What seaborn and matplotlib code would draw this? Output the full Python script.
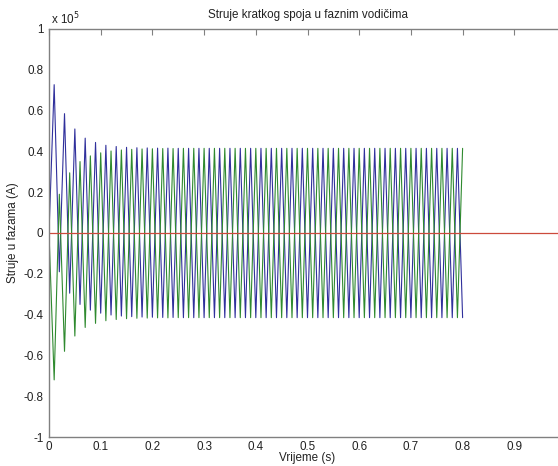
# -*- coding: utf-8 -*-
"""
Struje kratkog spoja u faznim vodičima - dvopolni kratki spoj
"""

import numpy as np
import pandas as pd
import matplotlib
matplotlib.use("Agg")
import matplotlib.pyplot as plt
import seaborn as sns
from matplotlib.ticker import FixedLocator, FuncFormatter

###############################################################################
# 1) Data (read off the figure): peak currents every half period (10 ms)
###############################################################################
half_period = 0.01          # s, 50 Hz
t_end = 0.8                 # s, end of simulation

# phase B (blue): positive peaks at 0.01, 0.03, ... and negative peaks at 0.02, 0.04, ...
ib_max = [72700, 58500, 51000, 46500, 44400, 43000, 42400, 42000, 41800, 41700,
          41600, 41600, 41500, 41500, 41500, 41500, 41500, 41500, 41500, 41500,
          41500, 41500, 41500, 41500, 41500, 41500, 41500, 41500, 41500, 41500,
          41500, 41500, 41500, 41500, 41500, 41500, 41500, 41500, 41500, 41500]
ib_min = [-19000, -29500, -35000, -37800, -39300, -40200, -40700, -41000, -41200, -41300,
          -41400, -41400, -41500, -41500, -41500, -41500, -41500, -41500, -41500, -41500,
          -41500, -41500, -41500, -41500, -41500, -41500, -41500, -41500, -41500, -41500,
          -41500, -41500, -41500, -41500, -41500, -41500, -41500, -41500, -41500, -41500]

# phase C (green): negative peaks at 0.01, 0.03, ... and positive peaks at 0.02, 0.04, ...
ic_min = [-72000, -58000, -50500, -46300, -44300, -43000, -42400, -42000, -41800, -41700,
          -41600, -41600, -41500, -41500, -41500, -41500, -41500, -41500, -41500, -41500,
          -41500, -41500, -41500, -41500, -41500, -41500, -41500, -41500, -41500, -41500,
          -41500, -41500, -41500, -41500, -41500, -41500, -41500, -41500, -41500, -41500]
ic_max = [19000, 29500, 35000, 37800, 39300, 40200, 40700, 41000, 41200, 41300,
          41400, 41400, 41500, 41500, 41500, 41500, 41500, 41500, 41500, 41500,
          41500, 41500, 41500, 41500, 41500, 41500, 41500, 41500, 41500, 41500,
          41500, 41500, 41500, 41500, 41500, 41500, 41500, 41500, 41500, 41500]

# phase A (red): no current
t_a = [0.0, 1.0]
ia = [0.0, 0.0]

x_ticks = [0, 0.1, 0.2, 0.3, 0.4, 0.5, 0.6, 0.7, 0.8, 0.9]
y_ticks = [-1e5, -0.8e5, -0.6e5, -0.4e5, -0.2e5, 0, 0.2e5, 0.4e5, 0.6e5, 0.8e5, 1e5]

color_a = "#cc4a3c"
color_b = "#30309c"
color_c = "#2f8a2f"

###############################################################################
# 2) Build tables
###############################################################################
t_bc = np.linspace(0, t_end, int(round(t_end / half_period)) + 1)
ib = [0.0] + [v for pair in zip(ib_max, ib_min) for v in pair]
ic = [0.0] + [v for pair in zip(ic_min, ic_max) for v in pair]

df_b = pd.DataFrame({"t": t_bc, "I": ib})
df_c = pd.DataFrame({"t": t_bc, "I": ic})
df_a = pd.DataFrame({"t": t_a, "I": ia})

###############################################################################
# 3) Plot
###############################################################################
sns.set_style("white")
plt.rcParams["font.family"] = ["Liberation Sans", "DejaVu Sans"]
FS = 8.4
TXT = "#222222"

fig = plt.figure(figsize=(5.58, 4.66), dpi=100)
ax = fig.add_axes([49 / 558, 29 / 466, 517 / 558, 408 / 466])

sns.lineplot(data=df_b, x="t", y="I", color=color_b, estimator=None, sort=False,
             linewidth=0.8, ax=ax)
sns.lineplot(data=df_c, x="t", y="I", color=color_c, estimator=None, sort=False,
             linewidth=0.8, ax=ax)
sns.lineplot(data=df_a, x="t", y="I", color=color_a, estimator=None, sort=False,
             linewidth=0.9, ax=ax)

ax.set_xlim(0, 1.0)
ax.set_ylim(-1e5, 1e5)

ax.xaxis.set_major_locator(FixedLocator(x_ticks))
ax.xaxis.set_major_formatter(FuncFormatter(lambda v, p: f"{round(v, 1) + 0.0:g}"))
ax.yaxis.set_major_locator(FixedLocator(y_ticks))
ax.yaxis.set_major_formatter(FuncFormatter(lambda v, p: f"{round(v / 1e5, 1) + 0.0:g}"))

ax.tick_params(direction="in", length=4, width=0.8, color="#808080",
               top=True, right=True, labelsize=FS, labelcolor=TXT, pad=4)
ax.tick_params(axis="x", pad=3)
for s in ax.spines.values():
    s.set_color("#808080")
    s.set_linewidth(1.0)

ax.set_title("Struje kratkog spoja u faznim vodičima", fontsize=FS, color=TXT, pad=8)
ax.set_xlabel("Vrijeme (s)", fontsize=FS, color=TXT, labelpad=-1)
ax.set_ylabel("Struje u fazama (A)", fontsize=FS, color=TXT, labelpad=3)
ax.text(0.003, 1.012, r"x 10$^5$", transform=ax.transAxes, fontsize=FS,
        color=TXT, ha="left", va="baseline")

fig.savefig("out.png", dpi=100)
